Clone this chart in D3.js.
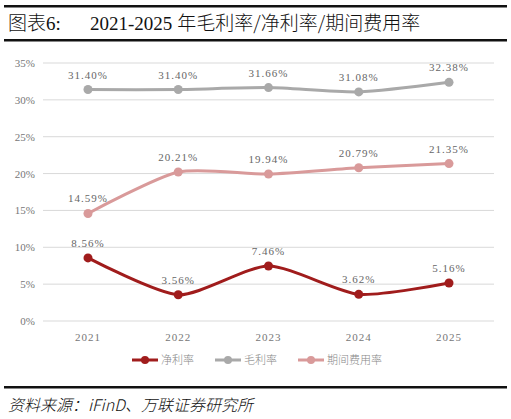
<!DOCTYPE html>
<html><head><meta charset="utf-8">
<script src="https://cdn.jsdelivr.net/npm/d3@7"></script>
<style>body{margin:0;background:#fff}</style></head>
<body><svg id="c" width="511" height="419"></svg>
<script>
const years=["2021","2022","2023","2024","2025"];
const netMargin=[8.56,3.56,7.46,3.62,5.16];
const grossMargin=[31.40,31.40,31.66,31.08,32.38];
const expenseRatio=[14.59,20.21,19.94,20.79,21.35];
const yTicks=[0,5,10,15,20,25,30,35];
const seriesNames=["净利率","毛利率","期间费用率"];
const colors=["#a01c1c","#a9a9a9","#d99a9a"];

const svg=d3.select("#c");
const serif="'Liberation Serif','DejaVu Serif',serif";
const cjk="'Noto Sans CJK SC',sans-serif";
svg.append("rect").attr("x",4).attr("y",5).attr("width",503).attr("height",2.5).attr("fill","#111");
svg.append("rect").attr("x",4).attr("y",39).attr("width",503).attr("height",2.5).attr("fill","#111");
svg.append("rect").attr("x",4).attr("y",386).attr("width",503).attr("height",2.5).attr("fill","#111");
const t=svg.append("text").attr("x",8).attr("y",30).attr("font-size",19).attr("fill","#111").attr("font-weight",300);
t.append("tspan").attr("font-family",cjk).text("图表");
t.append("tspan").attr("font-family",serif).text("6:");
t.append("tspan").attr("x",90).attr("font-family",serif).text("2021-2025");
t.append("tspan").attr("dx",5).attr("font-family",cjk).text("年毛利率/净利率/期间费用率");
svg.append("text").attr("x",8).attr("y",411).attr("font-size",16).attr("font-style","italic").attr("font-family",cjk).attr("font-weight",300).attr("fill","#111").text("资料来源：iFinD、万联证券研究所");

const x=d3.scalePoint().domain(years).range([88,449]);
const y=d3.scaleLinear().domain([0,35]).range([321,63]);
const g=svg.append("g");
g.selectAll("line.grid").data(yTicks).join("line").attr("x1",43).attr("x2",494)
 .attr("y1",d=>y(d)).attr("y2",d=>y(d)).attr("stroke","#d9d9d9").attr("stroke-width",1);
g.selectAll("text.yl").data(yTicks).join("text").attr("x",35).attr("y",d=>y(d)+4)
 .attr("text-anchor","end").attr("font-size",11).attr("font-family",serif).attr("fill","#777").text(d=>d+"%");
g.selectAll("text.xl").data(years).join("text").attr("x",d=>x(d)).attr("y",341)
 .attr("text-anchor","middle").attr("font-size",11).attr("font-family",serif).attr("fill","#777").attr("letter-spacing",1).text(d=>d);

const data=[netMargin,grossMargin,expenseRatio];
const line=d3.line().x((d,i)=>x(years[i])).y(d=>y(d)).curve(d3.curveCardinal.tension(0.3));
data.forEach((arr,k)=>{
  g.append("path").attr("d",line(arr)).attr("fill","none").attr("stroke",colors[k]).attr("stroke-width",3);
  g.selectAll(null).data(arr).join("circle").attr("cx",(d,i)=>x(years[i])).attr("cy",d=>y(d)).attr("r",4.5).attr("fill",colors[k]);
  g.selectAll(null).data(arr).join("text").attr("x",(d,i)=>x(years[i])).attr("y",d=>y(d)-11)
   .attr("text-anchor","middle").attr("font-size",11).attr("font-family",serif).attr("fill","#666").attr("letter-spacing",1)
   .text(d=>d.toFixed(2)+"%");
});
const lx=[132,215,298];
seriesNames.forEach((n,k)=>{
  const lg=svg.append("g").attr("transform",`translate(${lx[k]},360)`);
  lg.append("line").attr("x1",0).attr("x2",26).attr("stroke",colors[k]).attr("stroke-width",3);
  lg.append("circle").attr("cx",13).attr("r",4).attr("fill",colors[k]);
  lg.append("text").attr("x",29).attr("y",4).attr("font-size",11).attr("font-family",cjk).attr("font-weight",300).attr("fill","#888").text(n);
});
</script></body></html>
